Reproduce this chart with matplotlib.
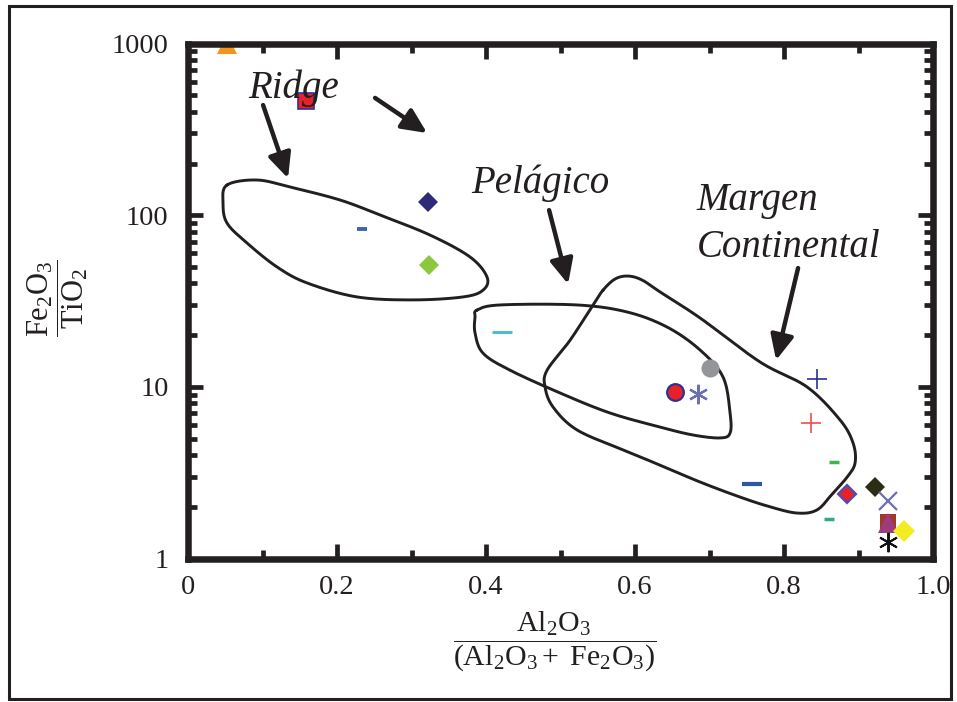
import numpy as np
import matplotlib
matplotlib.use("Agg")
import matplotlib.pyplot as plt
from matplotlib.patches import Rectangle
from matplotlib.ticker import FixedLocator, FixedFormatter, NullFormatter

plt.rcParams['font.family'] = ['Liberation Serif', 'DejaVu Serif']
plt.rcParams['mathtext.fontset'] = 'custom'
plt.rcParams['mathtext.rm'] = 'Liberation Serif'
plt.rcParams['mathtext.it'] = 'Liberation Serif:italic'
plt.rcParams['mathtext.bf'] = 'Liberation Serif:bold'

INK = '#231F20'

# ---- sample data: Al2O3/(Al2O3+Fe2O3) vs Fe2O3/TiO2 ----
al_ratio = [0.052, 0.158, 0.322, 0.233, 0.324, 0.421, 0.701, 0.653, 0.684,
            0.844, 0.836, 0.867, 0.757, 0.884, 0.922, 0.940, 0.860, 0.939,
            0.939, 0.961, 0.940]
fe_ti_ratio = [1000, 465, 119, 82.7, 51.3, 20.8, 12.8, 9.37, 9.08,
               11.1, 6.18, 3.66, 2.71, 2.37, 2.62, 2.17, 1.70, 1.64,
               1.62, 1.45, 1.25]

# marker styles: (marker, size, face, edge, edge width)
styles = [
    ('^', 15, '#F7941D', '#F7941D', 0),
    ('s', 12, '#E8202A', '#2E3192', 1.2),
    ('D', 10, '#2E2A78', '#2E2A78', 0),
    ('_', 7, '#3A66B7', '#3A66B7', 2.8),
    ('D', 10, '#8DC63F', '#8DC63F', 0),
    ('_', 15, '#3BBFC4', '#3BBFC4', 2.0),
    ('o', 13, '#939598', '#939598', 0),
    ('o', 12, '#E8202A', '#2E3192', 1.6),
    ((6, 2, 0), 14, '#6C6FB0', '#6C6FB0', 1.6),
    ('+', 15, '#2E3192', '#2E3192', 1.2),
    ('+', 15, '#ED4F4F', '#ED4F4F', 1.2),
    ('_', 7, '#3DB54A', '#3DB54A', 2.5),
    ('_', 14, '#2E56A6', '#2E56A6', 3.0),
    ('D', 9.5, '#E8202A', '#4B4FB0', 1.6),
    ('D', 10, '#2B2E12', '#2B2E12', 0),
    ('x', 13, '#6C6FB0', '#6C6FB0', 1.6),
    ('_', 7, '#2EAA80', '#2EAA80', 2.5),
    ('s', 12, '#A0382E', '#A0382E', 0),
    ('^', 14, '#9B3D7D', '#9B3D7D', 0),
    ('D', 11, '#F2EC20', '#F2EC20', 0),
    ((6, 2, 0), 14, '#111111', '#111111', 1.4),
]

# ---- field boundaries ----
ridge_x = [0.0523, 0.0926, 0.1369, 0.2040, 0.2577, 0.3248, 0.3785, 0.4013,
           0.3960, 0.3691, 0.3020, 0.2268, 0.1597, 0.1195, 0.0792, 0.0523, 0.0470]
ridge_y = [149.9, 160.3, 145.9, 122.6, 100.2, 76.6, 57.1, 43.6,
           36.6, 33.4, 32.1, 33.4, 40.3, 49.9, 68.8, 90.0, 117.8]

pelagic_x = [0.3879, 0.4188, 0.5221, 0.5893, 0.6430, 0.6872, 0.7181, 0.7275,
             0.7275, 0.7141, 0.6779, 0.6336, 0.5664, 0.4993, 0.4322, 0.3960,
             0.3852, 0.3852]
pelagic_y = [28.0, 30.0, 30.0, 27.3, 22.3, 16.4, 11.4, 7.04,
             5.38, 5.04, 5.24, 5.83, 7.04, 9.21, 12.5, 15.7, 20.6, 25.5]

margin_x = [0.5570, 0.5732, 0.5906, 0.6094, 0.6336, 0.6872, 0.7678, 0.8309,
            0.8752, 0.8926, 0.8953, 0.8846, 0.8658, 0.8443, 0.8174, 0.7812,
            0.7409, 0.6872, 0.6336, 0.5839, 0.5221, 0.4899, 0.4792, 0.4819,
            0.5128, 0.5436]
margin_y = [36.6, 42.5, 44.2, 41.9, 35.7, 25.2, 13.95, 9.98,
            6.41, 4.71, 3.60, 2.98, 2.41, 1.92, 1.84, 2.00,
            2.28, 2.79, 3.50, 4.29, 5.61, 7.63, 9.98, 12.5,
            18.7, 30.0]

x_ticks = [0, 0.2, 0.4, 0.6, 0.8, 1.0]
x_tick_labels = ['0', '0.2', '0.4', '0.6', '0.8', '1.0']
y_ticks = [1, 10, 100, 1000]
y_tick_labels = ['1', '10', '100', '1000']


def closed_curve(xs, ys, n=30):
    """Smooth closed Catmull-Rom curve through the vertices (log-y space)."""
    px = np.asarray(xs, float)
    py = np.log10(np.asarray(ys, float))
    m = len(px)
    out_x, out_y = [], []
    t = np.linspace(0, 1, n, endpoint=False)
    for i in range(m):
        p0 = np.array([px[i - 1], py[i - 1]])
        p1 = np.array([px[i], py[i]])
        p2 = np.array([px[(i + 1) % m], py[(i + 1) % m]])
        p3 = np.array([px[(i + 2) % m], py[(i + 2) % m]])
        for tt in t:
            t2, t3 = tt * tt, tt * tt * tt
            pt = 0.5 * ((2 * p1) + (-p0 + p2) * tt +
                        (2 * p0 - 5 * p1 + 4 * p2 - p3) * t2 +
                        (-p0 + 3 * p1 - 3 * p2 + p3) * t3)
            out_x.append(pt[0])
            out_y.append(pt[1])
    out_x.append(out_x[0])
    out_y.append(out_y[0])
    return np.array(out_x), 10 ** np.array(out_y)


fig = plt.figure(figsize=(9.57, 7.02), dpi=100)
ax = fig.add_axes([0.1965, 0.2044, 0.7785, 0.7336])
ax.set_xscale('linear')
ax.set_yscale('log')
ax.set_xlim(0, 1.0)
ax.set_ylim(1, 1000)

for xs, ys in [(ridge_x, ridge_y), (pelagic_x, pelagic_y), (margin_x, margin_y)]:
    cx, cy = closed_curve(xs, ys)
    ax.plot(cx, cy, color=INK, lw=2.1, zorder=1.5, solid_capstyle='round')

for xv, yv, (mk, ms, fc, ec, mew) in zip(al_ratio, fe_ti_ratio, styles):
    if mk in ('_', '+', 'x') or isinstance(mk, tuple):
        ax.plot([xv], [yv], linestyle='none', marker=mk, markersize=ms,
                color=fc, markeredgewidth=mew, zorder=2)
    else:
        ax.plot([xv], [yv], linestyle='none', marker=mk, markersize=ms,
                markerfacecolor=fc, markeredgecolor=ec,
                markeredgewidth=mew, zorder=2)

# axes frame and ticks
for sp in ax.spines.values():
    sp.set_linewidth(4.7)
    sp.set_color(INK)
    sp.set_zorder(3)

ax.xaxis.set_major_locator(FixedLocator(x_ticks))
ax.xaxis.set_major_formatter(FixedFormatter(x_tick_labels))
ax.xaxis.set_minor_locator(FixedLocator([0.1, 0.3, 0.5, 0.7, 0.9]))
ax.yaxis.set_major_locator(FixedLocator(y_ticks))
ax.yaxis.set_major_formatter(FixedFormatter(y_tick_labels))
ax.yaxis.set_minor_locator(FixedLocator(
    [m * 10 ** d for d in range(3) for m in range(2, 10)]))
ax.yaxis.set_minor_formatter(NullFormatter())

ax.tick_params(which='both', direction='in', top=True, right=True,
               color=INK, labelsize=20.5, labelcolor=INK)
ax.tick_params(which='major', length=11, width=3.4)
ax.tick_params(which='minor', length=6.5, width=3.4)
ax.tick_params(axis='x', which='major', pad=12)
ax.tick_params(axis='y', which='major', pad=14)

# field labels and arrows
lab_kw = dict(fontsize=28, style='italic', color=INK, family='Liberation Serif')
ax.text(0.141, 551, 'Ridge', ha='center', va='center', **lab_kw)
ax.text(0.4725, 154, 'Pelágico', ha='center', va='center', **lab_kw)
ax.text(0.683, 122.5, 'Margen', ha='left', va='center', **lab_kw)
ax.text(0.683, 64.4, 'Continental', ha='left', va='center', **lab_kw)

arrow_kw = dict(arrowstyle='-|>,head_length=0.75,head_width=0.35',
                color=INK, lw=3.2, mutation_scale=20, shrinkA=0, shrinkB=0)
for (x0, y0), (x1, y1) in [((0.1007, 438), (0.1342, 164)),
                           ((0.251, 482), (0.3208, 301)),
                           ((0.4846, 107), (0.5101, 39.7)),
                           ((0.8188, 49.2), (0.7893, 14.3))]:
    ax.annotate('', xy=(x1, y1), xytext=(x0, y0), arrowprops=arrow_kw)

# axis titles as stacked ratios
fig.text(555 / 957, 1 - 642 / 702,
         r'$\dfrac{\mathrm{Al_2O_3}}{\mathrm{(Al_2O_3+\ Fe_2O_3)}}$',
         ha='center', va='center', fontsize=21.5, color=INK)
fig.text(58 / 957, 1 - 298 / 702,
         r'$\dfrac{\mathrm{Fe_2O_3}}{\mathrm{TiO_2}}$',
         ha='center', va='center', fontsize=22, rotation=90, color=INK)

# outer border
fig.patches.append(Rectangle((9 / 957, 1 - 699 / 702), 942 / 957, 693 / 702,
                             transform=fig.transFigure, fill=False,
                             edgecolor=INK, linewidth=2.2))

fig.savefig('out.png', dpi=100)
